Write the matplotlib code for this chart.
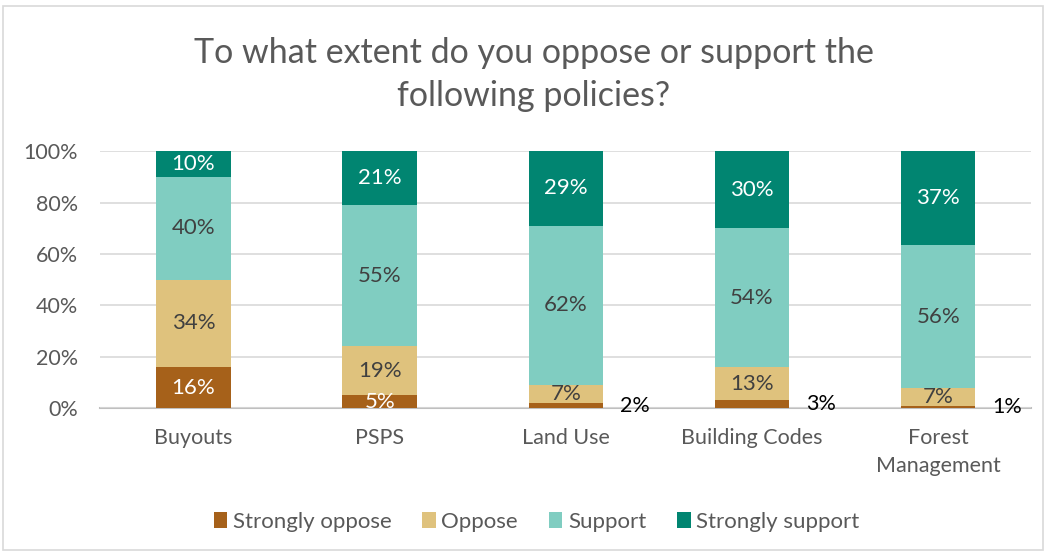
import matplotlib
matplotlib.use("Agg")
import matplotlib.pyplot as plt
import numpy as np
from matplotlib.patches import Rectangle

plt.rcParams['font.family'] = ['Lato', 'DejaVu Sans']

# Datos
categories = ["Buyouts", "PSPS", "Land Use", "Building Codes", "Forest\nManagement"]
series = ["Strongly oppose", "Oppose", "Support", "Strongly support"]
strongly_oppose = [16, 5, 2, 3, 1]
oppose = [34, 19, 7, 13, 7]
support = [40, 55, 62, 54, 56]
strongly_support = [10, 21, 29, 30, 37]

colors = ["#A6611A", "#DFC27D", "#80CDC1", "#018571"]
label_colors = ["white", "#404040", "#404040", "white"]

values = np.array([strongly_oppose, oppose, support, strongly_support], dtype=float)
pct = values / values.sum(axis=0) * 100  # 100% apilado como Excel

fig = plt.figure(figsize=(10.46, 5.56), dpi=100)
ax = fig.add_axes([0.096, 0.266, 0.89, 0.462])

x = np.arange(len(categories))
bottom = np.zeros(len(categories))
for i, name in enumerate(series):
    bars = ax.bar(x, pct[i], bottom=bottom, width=0.40, color=colors[i],
                  label=name, zorder=2, edgecolor="none")
    for j, b in enumerate(bars):
        v = int(values[i, j])
        cy = bottom[j] + pct[i, j] / 2
        if i == 0 and v <= 3:
            # etiquetas pequeñas fuera de la barra
            ax.annotate(f"{v}%", xy=(x[j] + 0.20, cy), xytext=(12, 0),
                        textcoords="offset points", ha="left", va="center",
                        fontsize=15.5, color="black", annotation_clip=False)
        else:
            ax.text(x[j], cy, f"{v}%", ha="center", va="center", fontsize=16,
                    color=label_colors[i], zorder=3, clip_on=True)
    bottom += pct[i]

ax.set_xlim(-0.5, len(categories) - 0.5)
ax.set_ylim(0, 100)
ax.set_yticks(range(0, 101, 20))
ax.set_yticklabels([f"{t}%" for t in range(0, 101, 20)])
ax.set_xticks(x)
ax.set_xticklabels(categories, linespacing=1.5)
ax.tick_params(axis="both", length=0, labelsize=15.5, colors="#595959")
ax.tick_params(axis="x", pad=14)
ax.tick_params(axis="y", pad=16)
ax.grid(True, axis="y", color="#D9D9D9", linewidth=1.2, zorder=0)
for s in ["top", "right", "left"]:
    ax.spines[s].set_visible(False)
ax.spines["bottom"].set_color("#BFBFBF")
ax.spines["bottom"].set_linewidth(1.5)
ax.spines["bottom"].set_zorder(1)

fig.text(0.510, 0.866, "To what extent do you oppose or support the\nfollowing policies?",
         ha="center", va="center", fontsize=24.5, color="#595959", linespacing=1.45)

fig.legend(loc="center", bbox_to_anchor=(0.513, 0.062), ncol=4, frameon=False,
           fontsize=16, labelcolor="#595959", handlelength=0.6, handleheight=0.7,
           handletextpad=0.25, columnspacing=1.4)

# marco del gráfico
fig.patches.append(Rectangle((0.003, 0.01), 0.994, 0.98, transform=fig.transFigure,
                             fill=False, edgecolor="#D9D9D9", linewidth=1.2))

fig.savefig("out.png", dpi=100)
